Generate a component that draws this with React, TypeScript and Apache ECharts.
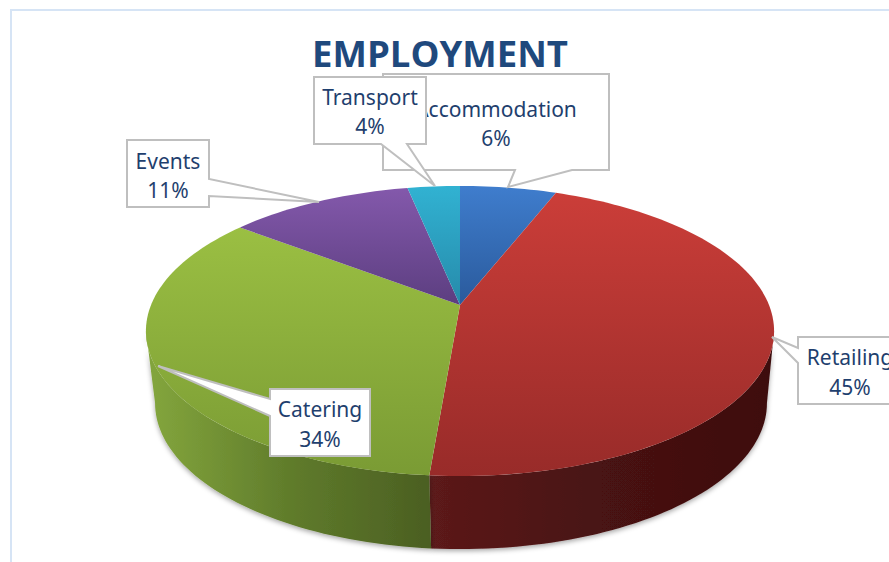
import React, { useEffect, useRef } from "react";
import * as echarts from "echarts";

const TITLE = "EMPLOYMENT";
const categories = ["Accommodation", "Retailing", "Catering", "Events", "Transport"];
const percentLabels = [6, 45, 34, 11, 4];
const values = [5.9, 45.4, 34.2, 11.3, 3.2];

const topStops = [
  ["#3f7dcd", "#2a5a9c"],
  ["#cc3e39", "#982b29"],
  ["#a0c545", "#7a9b34"],
  ["#8459ac", "#5c3e80"],
  ["#31b2d2", "#268aaa"],
];
const sideStops: (string[] | null)[] = [
  null,
  ["#5c1a1a", "#481212", "#3e0f0f"],
  ["#82a43c", "#5f7b2b", "#4b5f22"],
  null,
  null,
];

// callout layout: box x, y, w, h, wedge-base, tip, text centre
const callouts = [
  { box: [383, 74, 226, 96], side: "bottom", base: [515, 572], tip: [508, 187], at: [496, 123.5] },
  { box: [798, 337, 110, 67], side: "left", base: [348, 363], tip: [772, 337], at: [850, 372] },
  { box: [270, 389, 100, 67], side: "left", base: [399, 416], tip: [158, 366], at: [320, 424] },
  { box: [127, 140, 82, 67], side: "right", base: [179, 196], tip: [319, 202], at: [168, 175.5] },
  { box: [314, 77, 112, 67], side: "bottom", base: [381, 407], tip: [435, 186], at: [370, 111.5] },
];

const K = 0.179;
const TOP = { cx: 460, cy: 305, R: 309, S: 140.4 };
const BOTTOM = { cx: 461, cy: 377, R: 301, S: 141.3 };
const SIDE_FROM = 100.3;
const SIDE_TO = 259.7;

function project(p: typeof TOP, deg: number): number[] {
  const t = (deg * Math.PI) / 180;
  const u = Math.sin(t);
  const v = -Math.cos(t);
  const w = 1 - K * v;
  return [p.cx + (p.R * u) / w, p.cy + (p.S * v) / w];
}

function arc(p: typeof TOP, a: number, b: number): number[][] {
  const n = Math.max(2, Math.ceil(Math.abs(b - a) / 1.5));
  const pts: number[][] = [];
  for (let i = 0; i <= n; i++) pts.push(project(p, a + ((b - a) * i) / n));
  return pts;
}

function span(i: number): number[] {
  const total = values.reduce((s, v) => s + v, 0);
  let sum = 0;
  for (let k = 0; k < i; k++) sum += values[k];
  return [(sum / total) * 360, ((sum + values[i]) / total) * 360];
}

function calloutPoints(c: (typeof callouts)[number]): number[][] {
  const [x, y, w, h] = c.box;
  const [b0, b1] = c.base;
  const r = x + w;
  const d = y + h;
  if (c.side === "bottom") return [[x, y], [r, y], [r, d], [b1, d], c.tip, [b0, d], [x, d]];
  if (c.side === "left") return [[x, y], [r, y], [r, d], [x, d], [x, b1], c.tip, [x, b0]];
  return [[x, y], [r, y], [r, b0], c.tip, [r, b1], [r, d], [x, d]];
}

export default function App() {
  const ref = useRef<HTMLDivElement>(null);
  useEffect(() => {
    const chart = echarts.init(ref.current!, undefined, { renderer: "svg" });
    const data = values.map((v, i) => [v, i]);
    chart.setOption({
      animation: false,
      backgroundColor: "#ffffff",
      title: {
        text: TITLE,
        left: 440,
        top: 29,
        textAlign: "center",
        textStyle: { color: "#1f497d", fontFamily: "Open Sans", fontWeight: 700, fontSize: 36.5 },
      },
      graphic: [
        {
          type: "polyline",
          shape: { points: [[11, 562], [11, 10], [889, 10]] },
          style: { stroke: "#d6e4f5", lineWidth: 2, fill: "none" },
          silent: true,
        },
      ],
      series: [
        {
          type: "custom",
          coordinateSystem: "none",
          z: 2,
          data,
          renderItem: (_p: any, api: any) => {
            const i = api.value(1);
            const stops = sideStops[i];
            if (!stops) return { type: "group", children: [] };
            const [a, b] = span(i);
            const from = Math.max(a, SIDE_FROM);
            const to = Math.min(b, SIDE_TO);
            const points = [...arc(TOP, from, to), ...arc(BOTTOM, to, from)];
            const fill = new echarts.graphic.LinearGradient(
              i === 1 ? 430 : 155, 0, i === 1 ? 770 : 430, 0,
              stops.map((color, k) => ({ offset: k / (stops.length - 1), color })),
              true,
            );
            return {
              type: "polygon",
              shape: { points },
              style: { fill, shadowBlur: 5, shadowColor: "rgba(0,0,0,0.35)", shadowOffsetY: 2, shadowOffsetX: 0 },
            };
          },
        },
        {
          type: "custom",
          coordinateSystem: "none",
          z: 3,
          data,
          renderItem: (_p: any, api: any) => {
            const i = api.value(1);
            const [a, b] = span(i);
            const points = [[TOP.cx, TOP.cy], ...arc(TOP, a, b)];
            const bottomY = i === 1 || i === 2 ? 476 : 305;
            const fill = new echarts.graphic.LinearGradient(
              0, 186, 0, bottomY,
              [{ offset: 0, color: topStops[i][0] }, { offset: 1, color: topStops[i][1] }],
              true,
            );
            return { type: "polygon", shape: { points }, style: { fill } };
          },
        },
        {
          type: "custom",
          coordinateSystem: "none",
          z: 4,
          data,
          renderItem: (_p: any, api: any) => {
            const i = api.value(1);
            const c = callouts[i];
            return {
              type: "group",
              children: [
                {
                  type: "polygon",
                  shape: { points: calloutPoints(c) },
                  style: { fill: "#ffffff", stroke: "#bfbfbf", lineWidth: 2 },
                },
                {
                  type: "text",
                  style: {
                    text: `${categories[i]}\n${percentLabels[i]}%`,
                    x: c.at[0],
                    y: c.at[1],
                    align: "center",
                    verticalAlign: "middle",
                    fontFamily: "Noto Sans",
                    fontSize: 21,
                    lineHeight: 29.5,
                    fill: "#1f3f6e",
                  },
                },
              ],
            };
          },
        },
      ],
    });
    chart.setOption({ title: { left: 435 } });
    return () => chart.dispose();
  }, []);
  return <div ref={ref} style={{ position: "fixed", left: 0, top: 0, width: 889, height: 562 }} />;
}
